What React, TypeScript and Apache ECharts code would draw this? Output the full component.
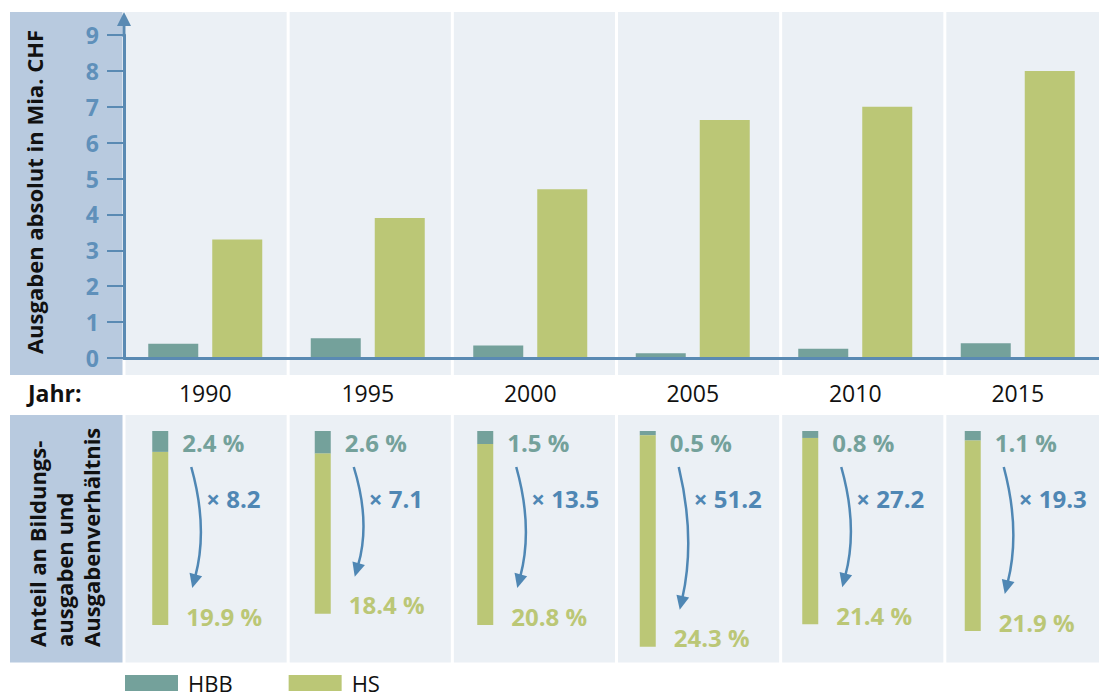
import React, { useEffect, useRef } from "react";
import * as echarts from "echarts";

const years = ["1990", "1995", "2000", "2005", "2010", "2015"];
const hbbAbs = [0.4, 0.55, 0.35, 0.13, 0.26, 0.41];
const hsAbs = [3.3, 3.9, 4.7, 6.63, 7.0, 8.0];
const hbbShare = [2.4, 2.6, 1.5, 0.5, 0.8, 1.1];
const hsShare = [19.9, 18.4, 20.8, 24.3, 21.4, 21.9];
const ratios = [8.2, 7.1, 13.5, 51.2, 27.2, 19.3];
const yAxisTitle = "Ausgaben absolut in Mia. CHF";
const bottomTitle = "Anteil an Bildungs-\nausgaben und\nAusgabenverhältnis";
const yearLabel = "Jahr:";

const TEAL = "#74a19b";
const GREEN = "#bbc776";
const BLUE = "#4f87b4";
const AXIS = "#5a8ab3";
const PANEL = "#ebf0f5";
const LEFTPANEL = "#b8cadf";
const FONT = '"Open Sans", sans-serif';

const GRID_LEFT = 124;
const GRID_W = 985;
const CAT_W = GRID_W / years.length;

export default function App() {
  const ref = useRef<HTMLDivElement>(null);
  useEffect(() => {
    document.body.style.margin = "0";
    const chart = echarts.init(ref.current!, null, { renderer: "svg" });

    const bg: any[] = [];
    bg.push({ type: "rect", z: -10, shape: { x: 10, y: 12, width: 112.5, height: 363 }, style: { fill: LEFTPANEL } });
    bg.push({ type: "rect", z: -10, shape: { x: 10, y: 415, width: 112.5, height: 247.5 }, style: { fill: LEFTPANEL } });
    years.forEach((_, i) => {
      const x0 = GRID_LEFT + i * CAT_W + 1.5;
      const w = CAT_W - 3;
      bg.push({ type: "rect", z: -10, shape: { x: x0, y: 12, width: w, height: 363 }, style: { fill: PANEL } });
      bg.push({ type: "rect", z: -10, shape: { x: x0, y: 415, width: w, height: 247.5 }, style: { fill: PANEL } });
    });

    const texts: any[] = [
      {
        type: "text", z: 20, x: 23, y: 192, rotation: Math.PI / 2,
        style: { text: yAxisTitle, font: `bold 22px ${FONT}`, fill: "#111", textAlign: "center", align: "center", textVerticalAlign: "top", verticalAlign: "top" },
      },
      {
        type: "text", z: 20, x: 23, y: 647, rotation: Math.PI / 2,
        style: { text: bottomTitle, font: `bold 22px ${FONT}`, lineHeight: 27, fill: "#111", textAlign: "left", align: "left", textVerticalAlign: "top", verticalAlign: "top" },
      },
      {
        type: "text", z: 20, x: 28, y: 393,
        style: { text: yearLabel, font: `bold 23px ${FONT}`, fill: "#111", textAlign: "left", align: "left", textVerticalAlign: "middle", verticalAlign: "middle" },
      },
      { type: "line", z: 20, shape: { x1: GRID_LEFT, y1: 37, x2: GRID_LEFT, y2: 24 }, style: { stroke: AXIS, lineWidth: 3 } },
      { type: "polygon", z: 20, shape: { points: [[GRID_LEFT, 12], [GRID_LEFT - 7, 26], [GRID_LEFT + 7, 26]] }, style: { fill: AXIS } },
    ];

    const option: any = {
      animation: false,
      graphic: { elements: [...bg, ...texts] },
      legend: {
        left: 125, top: 672, padding: 0, icon: "rect", itemWidth: 53, itemHeight: 16, itemGap: 56,
        textStyle: { fontFamily: FONT, fontSize: 22, color: "#111", padding: [0, 0, 0, 5] },
        data: ["HBB", "HS"],
      },
      grid: [
        { left: GRID_LEFT, width: GRID_W, top: 35, height: 323 },
        { left: GRID_LEFT, width: GRID_W, top: 431, height: 217.5 },
      ],
      xAxis: [
        {
          type: "category", gridIndex: 0, data: years, z: 5,
          axisLine: { lineStyle: { color: AXIS, width: 3 } },
          axisTick: { show: false },
          axisLabel: { color: "#111", fontFamily: FONT, fontSize: 23, margin: 35, verticalAlign: "middle" },
        },
        { type: "category", gridIndex: 1, data: years, show: false },
      ],
      yAxis: [
        {
          type: "value", gridIndex: 0, min: 0, max: 9, interval: 1, z: 5,
          axisLine: { show: true, lineStyle: { color: AXIS, width: 3 } },
          axisTick: { show: true, length: 17, lineStyle: { color: AXIS, width: 2 } },
          axisLabel: { color: "#5f90ba", fontFamily: FONT, fontWeight: "bold", fontSize: 23, margin: 25 },
          splitLine: { show: false },
        },
        { type: "value", gridIndex: 1, min: 0, max: 25, inverse: true, show: false },
      ],
      series: [
        {
          name: "HBB", type: "bar", xAxisIndex: 0, yAxisIndex: 0, data: hbbAbs,
          barWidth: 50, barGap: "28%", itemStyle: { color: TEAL },
        },
        {
          name: "HS", type: "bar", xAxisIndex: 0, yAxisIndex: 0, data: hsAbs,
          barWidth: 50, barGap: "28%", itemStyle: { color: GREEN },
        },
        {
          name: "shares", type: "custom", xAxisIndex: 1, yAxisIndex: 1, clip: false,
          encode: { x: 0, y: [1, 2] },
          data: years.map((_, i) => [i, hbbShare[i], hsShare[i], ratios[i]]),
          renderItem: (params: any, api: any) => {
            const idx = api.value(0);
            const hbb = api.value(1) as number;
            const hs = api.value(2) as number;
            const ratio = api.value(3) as number;
            const base = api.coord([idx, 0]);
            const cx = base[0];
            const y0 = base[1];
            const y1 = api.coord([idx, hbb])[1];
            const y2 = api.coord([idx, hbb + hs])[1];
            const barX = cx - 53;
            const sx = cx - 14, sy = y0 + 36;
            const tx = cx - 13, ty = y2 - 37;
            const cpx = cx + 3, cpy = (sy + ty) / 2;
            let dx = tx - cpx, dy = ty - cpy;
            const len = Math.sqrt(dx * dx + dy * dy);
            dx /= len; dy /= len;
            const headL = 14, headW = 6.5;
            const bx = tx - dx * headL, by = ty - dy * headL;
            const px = -dy, py = dx;
            const lbl = `bold 24px ${FONT}`;
            return {
              type: "group",
              children: [
                { type: "rect", shape: { x: barX, y: y0, width: 16, height: y1 - y0 }, style: { fill: TEAL } },
                { type: "rect", shape: { x: barX, y: y1, width: 16, height: y2 - y1 }, style: { fill: GREEN } },
                {
                  type: "text", x: cx - 23, y: y0 + 11,
                  style: { text: `${hbb.toFixed(1)} %`, font: lbl, fill: TEAL, textAlign: "left", align: "left", textVerticalAlign: "middle", verticalAlign: "middle" },
                },
                {
                  type: "text", x: cx - 19, y: y2 - 9,
                  style: { text: `${hs.toFixed(1)} %`, font: lbl, fill: GREEN, textAlign: "left", align: "left", textVerticalAlign: "middle", verticalAlign: "middle" },
                },
                {
                  type: "text", x: cx + 1, y: y0 + 67,
                  style: { text: `× ${ratio.toFixed(1)}`, font: lbl, fill: BLUE, textAlign: "left", align: "left", textVerticalAlign: "middle", verticalAlign: "middle" },
                },
                {
                  type: "bezierCurve",
                  shape: { x1: sx, y1: sy, x2: bx + dx * 2, y2: by + dy * 2, cpx1: cpx, cpy1: cpy },
                  style: { stroke: BLUE, lineWidth: 2.5, fill: null },
                },
                {
                  type: "polygon",
                  shape: { points: [[tx, ty], [bx + px * headW, by + py * headW], [bx - px * headW, by - py * headW]] },
                  style: { fill: BLUE },
                },
              ],
            };
          },
        },
      ],
    };
    chart.setOption(option);
    return () => chart.dispose();
  }, []);
  return <div ref={ref} style={{ width: 1099, height: 697, position: "absolute", left: 0, top: 0 }} />;
}
